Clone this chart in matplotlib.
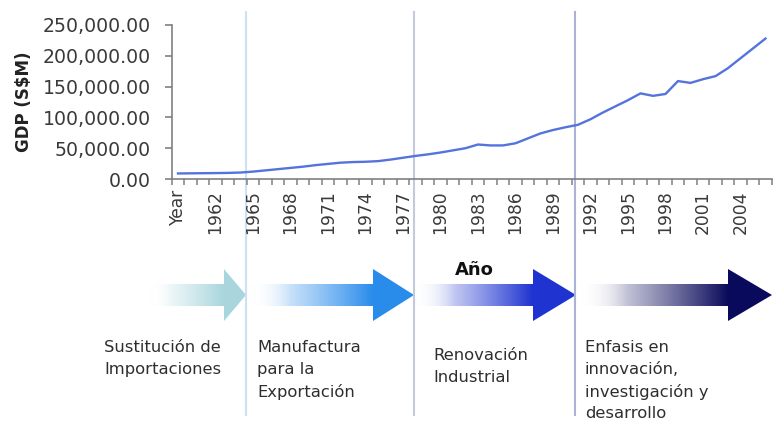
import matplotlib
matplotlib.use("Agg")
import matplotlib.pyplot as plt
import numpy as np
from matplotlib.patches import Polygon
from matplotlib.ticker import FuncFormatter, FixedLocator
from matplotlib.colors import to_rgb

# ---------------- data ----------------
categories = ["Year"] + [str(y) for y in range(1960, 2007)]
gdp = [9000, 9200, 9400, 9600, 9900, 10500, 12000, 14000, 16000, 18000,
       20000, 22500, 24500, 26500, 27500, 28000, 29000, 31500, 34500, 37500,
       40000, 43000, 46500, 50000, 56000, 54500, 54500, 58000, 66000, 74000,
       79500, 84000, 88000, 97000, 108000, 118000, 128000, 139000, 135000, 138000,
       159000, 156000, 162000, 167000, 180000, 196000, 212000, 228000]
y_ticks = [0, 50000, 100000, 150000, 200000, 250000]
phase_labels = ["Sustitución de\nImportaciones",
                "Manufactura\npara la\nExportación",
                "Renovación\nIndustrial",
                "Enfasis en\ninnovación,\ninvestigación y\ndesarrollo"]

W, H = 775, 423
plt.rcParams['font.family'] = ['DejaVu Sans']
fig = plt.figure(figsize=(W / 100, H / 100), dpi=100)
fig.patch.set_facecolor("white")

# overlay axes in pixel coordinates for decorations
ov = fig.add_axes([0, 0, 1, 1], zorder=0)
ov.set_xlim(0, W)
ov.set_ylim(H, 0)
ov.axis("off")

# gradient arrows
arrows = [
    # tail, head_start, tip, color
    (150, 224, 246, "#a9d6dd"),
    (250, 373, 414, "#2a8ceb"),
    (414, 533, 576, "#1e34d0"),
    (580, 728, 772, "#0b0b5c"),
]
yc = 295
shaft_half = 11
head_half = 26
for tail, hs, tip, col in arrows:
    verts = [(tail, yc - shaft_half), (hs, yc - shaft_half), (hs, yc - head_half),
             (tip, yc), (hs, yc + head_half), (hs, yc + shaft_half),
             (tail, yc + shaft_half)]
    poly = Polygon(verts, closed=True, facecolor="none", edgecolor="none")
    ov.add_patch(poly)
    n = 200
    c = np.array(to_rgb(col))
    t = np.linspace(0, 1, n)
    frac = np.clip(t / ((hs - tail) / (tip - tail)), 0, 1) ** 1.2
    rgba = np.ones((2, n, 4))
    for k in range(3):
        rgba[:, :, k] = 1 - frac * (1 - c[k])
    rgba[:, :, 3] = np.clip(t * 4, 0, 1)
    im = ov.imshow(rgba, extent=[tail, tip, yc + head_half, yc - head_half],
                   aspect="auto", interpolation="bilinear", zorder=2)
    im.set_clip_path(poly)

# vertical phase lines
for x, col in [(246, "#cfe0f2"), (414, "#c3cadb"), (575, "#aab2d8")]:
    ov.plot([x, x], [12, 415], color=col, lw=1.5, zorder=3)

# phase texts
text_pos = [(104, 340), (257, 340), (433, 348), (585, 340)]
for (x, y), s in zip(text_pos, phase_labels):
    ov.text(x, y, s, ha="left", va="top", fontsize=11.8, color="#2e2e2e",
            linespacing=1.55)

ov.text(474, 270, "Año", ha="center", va="center", fontsize=13,
        fontweight="bold", color="#111111")

# ---------------- main chart ----------------
left_px, right_px, top_px, bot_px = 171.75, 771.75, 25, 179
ax = fig.add_axes([left_px / W, 1 - bot_px / H, (right_px - left_px) / W,
                   (bot_px - top_px) / H], zorder=1)
ax.set_facecolor("none")
idx = np.arange(len(categories))
ax.plot(idx, gdp, color="#5573dd", lw=1.7, solid_joinstyle="round")
ax.set_xlim(-0.5, len(categories) - 0.5)
ax.set_ylim(0, 250000)

for s in ["top", "right"]:
    ax.spines[s].set_visible(False)
for s in ["left", "bottom"]:
    ax.spines[s].set_color("#808080")
    ax.spines[s].set_linewidth(1.2)

ax.yaxis.set_major_locator(FixedLocator(y_ticks))
ax.yaxis.set_major_formatter(FuncFormatter(lambda v, p: f"{v:,.2f}"))
ax.tick_params(axis="y", direction="out", length=5, width=1.2, color="#808080",
               labelsize=13.6, labelcolor="#3a3a3a", pad=10)

ax.xaxis.set_major_locator(FixedLocator(np.arange(len(categories) + 1) - 0.5))
ax.xaxis.set_major_formatter(FuncFormatter(lambda v, p: ""))
label_idx = idx[::3]
ax.xaxis.set_minor_locator(FixedLocator(label_idx))
ax.set_xticks(label_idx, [categories[i] for i in label_idx], minor=True)
ax.tick_params(axis="x", which="major", direction="out", length=4, width=1.1,
               color="#808080")
ax.tick_params(axis="x", which="minor", length=0, labelsize=12.3,
               labelcolor="#3a3a3a", labelrotation=90, pad=8)

ax.set_ylabel("GDP (S$M)", fontsize=12, fontweight="bold", color="#222222")
ax.yaxis.set_label_coords(-0.231, 0.5)

fig.savefig("out.png", dpi=100, facecolor="white")
